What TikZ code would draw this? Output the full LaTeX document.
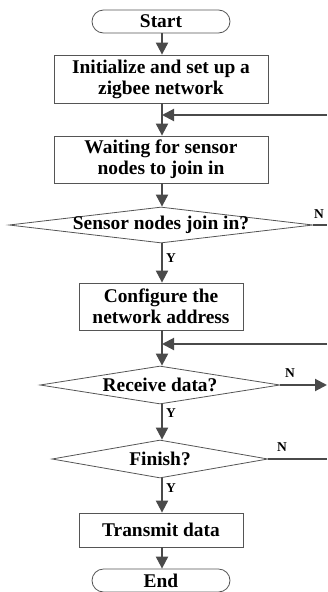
\documentclass[tikz,border=0pt]{standalone}
\usepackage{fontspec}
\setmainfont{Liberation Serif}
\usetikzlibrary{shapes.geometric,shapes.misc,arrows.meta}
\definecolor{lncol}{HTML}{4A4A4A}
\definecolor{bdcol}{HTML}{555555}
\tikzset{
  txt/.style={font=\bfseries\fontsize{19.4}{21}\selectfont},
  box/.style={txt,draw=bdcol,line width=0.8pt,rectangle,inner sep=0pt,align=center},
  term/.style={txt,draw=bdcol,line width=0.8pt,rounded rectangle,inner sep=0pt,minimum width=138pt,minimum height=23pt},
  dec/.style={draw=bdcol,line width=0.8pt,diamond,inner sep=0pt,aspect=1},
  conn/.style={draw=lncol,line width=2pt},
  arr/.style={conn,-{Triangle[length=12pt,width=12pt]}},
  lbl/.style={font=\bfseries\fontsize{13.5}{14}\selectfont,inner sep=0pt}
}
\begin{document}
\begin{tikzpicture}[x=1pt,y=-1pt]
\useasboundingbox (0,0) rectangle (327,592);
\node[term] (start) at (161,21.5) {Start};
\node[box,minimum width=214pt,minimum height=48pt] (init) at (161,79) {Initialize and set up a\\zigbee network};
\node[box,minimum width=214pt,minimum height=47pt] (wait) at (161,159.5) {Waiting for sensor\\nodes to join in};
\node[dec,minimum width=304pt,minimum height=36pt] (d1) at (161,225) {};
\node[txt] (t1) at (d1.center) {Sensor nodes join in?};
\node[box,minimum width=164pt,minimum height=47pt] (conf) at (161,306.5) {Configure the\\network address};
\node[dec,minimum width=240pt,minimum height=38pt] (d2) at (160,385) {};
\node[txt] (t2) at (d2.center) {Receive data?};
\node[dec,minimum width=216pt,minimum height=38pt] (d3) at (160,459) {};
\node[txt] (t3) at (d3.center) {Finish?};
\node[box,minimum width=164pt,minimum height=34pt] (trans) at (161,530) {Transmit data};
\node[term] (end) at (161,580.5) {End};

\coordinate (j1) at (162,115);
\coordinate (e1) at (327,115);
\coordinate (j2) at (162,344);
\coordinate (e2) at (327,344);
\coordinate (o1) at (327,225);
\coordinate (o2) at (327,385);
\coordinate (o3) at (327,459);

\draw[arr] (start.south -| j1) -- (init.north -| j1);
\draw[arr] (init.south -| j1) -- (wait.north -| j1);
\draw[arr] (e1) -- (j1);
\draw[arr] (wait.south -| j1) -- (d1.north -| j1);
\draw[arr] (d1.south -| j1) -- (conf.north -| j1);
\draw[arr] (conf.south -| j1) -- (d2.north -| j1);
\draw[arr] (e2) -- (j2);
\draw[arr] (d2.south -| j1) -- (d3.north -| j1);
\draw[arr] (d3.south -| j1) -- (trans.north -| j1);
\draw[arr] (trans.south -| j1) -- (end.north -| j1);
\draw[conn] (d1.east) -- (o1);
\draw[arr] (d2.east) -- (o2);
\draw[conn] (d3.east) -- (o3);

\node[lbl] (n1) at (319,214) {N};
\node[lbl] (n2) at (290,373) {N};
\node[lbl] (n3) at (282,447) {N};
\node[lbl,anchor=west] (y1) at (166,258) {Y};
\node[lbl,anchor=west] (y2) at (166,413) {Y};
\node[lbl,anchor=west] (y3) at (166,488) {Y};
\end{tikzpicture}
\end{document}
